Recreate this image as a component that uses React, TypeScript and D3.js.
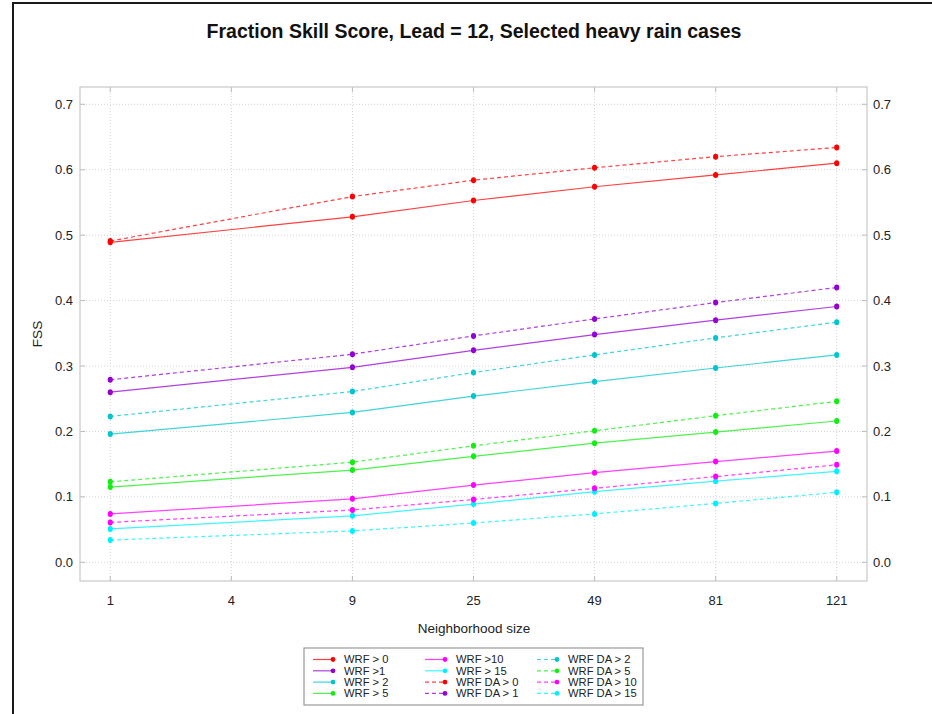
import React from 'react';
import * as d3 from 'd3';

// x axis categories (neighborhood size); no data at "4"
const xLabels = ['1', '4', '9', '25', '49', '81', '121'];
const dataX = ['1', '9', '25', '49', '81', '121'];
const yTicks = [0, 0.1, 0.2, 0.3, 0.4, 0.5, 0.6, 0.7];

const wrf0 = [0.489, 0.528, 0.553, 0.574, 0.592, 0.610];
const wrf1 = [0.260, 0.298, 0.324, 0.348, 0.370, 0.391];
const wrf2 = [0.196, 0.229, 0.254, 0.276, 0.297, 0.317];
const wrf5 = [0.115, 0.141, 0.162, 0.182, 0.199, 0.216];
const wrf10 = [0.074, 0.097, 0.118, 0.137, 0.154, 0.170];
const wrf15 = [0.051, 0.071, 0.089, 0.108, 0.124, 0.139];
const da0 = [0.491, 0.559, 0.584, 0.603, 0.620, 0.634];
const da1 = [0.279, 0.318, 0.346, 0.372, 0.397, 0.420];
const da2 = [0.223, 0.261, 0.290, 0.317, 0.343, 0.367];
const da5 = [0.123, 0.153, 0.178, 0.201, 0.224, 0.246];
const da10 = [0.061, 0.080, 0.096, 0.113, 0.131, 0.149];
const da15 = [0.034, 0.048, 0.060, 0.074, 0.090, 0.107];

const series = [
  { name: 'WRF > 0', values: wrf0, color: '#ff0000', dashed: false },
  { name: 'WRF >1', values: wrf1, color: '#9400d3', dashed: false },
  { name: 'WRF > 2', values: wrf2, color: '#00c5cd', dashed: false },
  { name: 'WRF > 5', values: wrf5, color: '#11ee11', dashed: false },
  { name: 'WRF >10', values: wrf10, color: '#ff00ff', dashed: false },
  { name: 'WRF > 15', values: wrf15, color: '#00f0ff', dashed: false },
  { name: 'WRF DA > 0', values: da0, color: '#ff0000', dashed: true },
  { name: 'WRF DA > 1', values: da1, color: '#9400d3', dashed: true },
  { name: 'WRF DA > 2', values: da2, color: '#00c5cd', dashed: true },
  { name: 'WRF DA > 5', values: da5, color: '#11ee11', dashed: true },
  { name: 'WRF DA > 10', values: da10, color: '#ff00ff', dashed: true },
  { name: 'WRF DA > 15', values: da15, color: '#00f0ff', dashed: true },
];

const W = 932;
const H = 714;
const frame = { left: 80, right: 867, top: 87, bottom: 581 };
const font = '"Liberation Sans", Arial, Helvetica, sans-serif';

const App = () => {
  const x = d3.scalePoint<string>().domain(xLabels).range([frame.left, frame.right]).padding(0.25);
  const y = d3.scaleLinear().domain([0, 0.7]).range([562.3, 104.3]);

  const line = d3.line<number>()
    .x((_, i) => x(dataX[i]) as number)
    .y(d => y(d));

  const legendCols = [304, 416, 528];

  return (
    <div style={{ position: 'absolute', left: 0, top: 0 }}>
      <svg width={W} height={H} style={{ display: 'block', fontFamily: font }}>
        <rect x={0} y={0} width={W} height={H} fill="#fff" />
        {/* outer figure border */}
        <rect x={13} y={3} width={W + 20} height={H + 20} fill="none" stroke="#1a1a1a" strokeWidth={2} />

        <text x={474} y={31} dy="0.35em" textAnchor="middle" fontSize={19.5} fontWeight="bold" fill="#111">
          Fraction Skill Score, Lead = 12, Selected heavy rain cases
        </text>

        {/* grid */}
        {yTicks.map(t => (
          <line key={'gy' + t} x1={frame.left} x2={frame.right} y1={y(t)} y2={y(t)}
            stroke="#d4d4d4" strokeDasharray="1,2" />
        ))}
        {xLabels.map(l => (
          <line key={'gx' + l} x1={x(l)} x2={x(l)} y1={frame.top} y2={frame.bottom}
            stroke="#d4d4d4" strokeDasharray="1,2" />
        ))}
        {/* ticks */}
        {yTicks.map(t => (
          <g key={'ty' + t} stroke="#bbb">
            <line x1={frame.left} x2={frame.left + 5} y1={y(t)} y2={y(t)} />
            <line x1={frame.right - 5} x2={frame.right} y1={y(t)} y2={y(t)} />
          </g>
        ))}
        {xLabels.map(l => (
          <g key={'tx' + l} stroke="#bbb">
            <line x1={x(l)} x2={x(l)} y1={frame.bottom} y2={frame.bottom - 5} />
            <line x1={x(l)} x2={x(l)} y1={frame.top} y2={frame.top + 5} />
          </g>
        ))}
        <rect x={frame.left} y={frame.top} width={frame.right - frame.left} height={frame.bottom - frame.top}
          fill="none" stroke="#c8c8c8" strokeWidth={1.2} />

        {/* tick labels */}
        {yTicks.map(t => (
          <g key={'ly' + t} fontSize={13} fill="#222">
            <text x={73} y={y(t)} dy="0.35em" textAnchor="end">{t.toFixed(1)}</text>
            <text x={873} y={y(t)} dy="0.35em" textAnchor="start">{t.toFixed(1)}</text>
          </g>
        ))}
        {xLabels.map(l => (
          <text key={'lx' + l} x={x(l)} y={600} dy="0.35em" textAnchor="middle" fontSize={13} fill="#222">{l}</text>
        ))}
        <text x={474} y={628} dy="0.35em" textAnchor="middle" fontSize={13.5} fill="#222">Neighborhood size</text>
        <text transform={`translate(37,${(frame.top + frame.bottom) / 2}) rotate(-90)`} dy="0.35em"
          textAnchor="middle" fontSize={13.5} fill="#222">FSS</text>

        {/* series */}
        {series.map(s => (
          <g key={s.name}>
            <path d={line(s.values) || ''} fill="none" stroke={s.color} strokeWidth={1.2}
              strokeOpacity={0.75} strokeDasharray={s.dashed ? '4,3' : undefined} />
            {s.values.map((v, i) => (
              <ellipse key={i} cx={x(dataX[i])} cy={y(v)} rx={2.6} ry={3} fill={s.color} />
            ))}
          </g>
        ))}

        {/* legend */}
        <rect x={304} y={648} width={339} height={57} fill="#fff" stroke="#999" strokeWidth={1.2} />
        {series.map((s, i) => {
          const col = Math.floor(i / 4);
          const row = i % 4;
          const lx = legendCols[col] + 9;
          const ly = 659.5 + row * 11.3;
          return (
            <g key={'lg' + s.name}>
              <line x1={lx} x2={lx + 20} y1={ly} y2={ly} stroke={s.color} strokeWidth={1.2}
                strokeOpacity={0.75} strokeDasharray={s.dashed ? '4,3' : undefined} />
              <circle cx={lx + 20} cy={ly} r={2.4} fill={s.color} />
              <text x={lx + 31} y={ly} dy="0.35em" fontSize={11.2} fill="#222">{s.name}</text>
            </g>
          );
        })}
      </svg>
    </div>
  );
};

export default App;
